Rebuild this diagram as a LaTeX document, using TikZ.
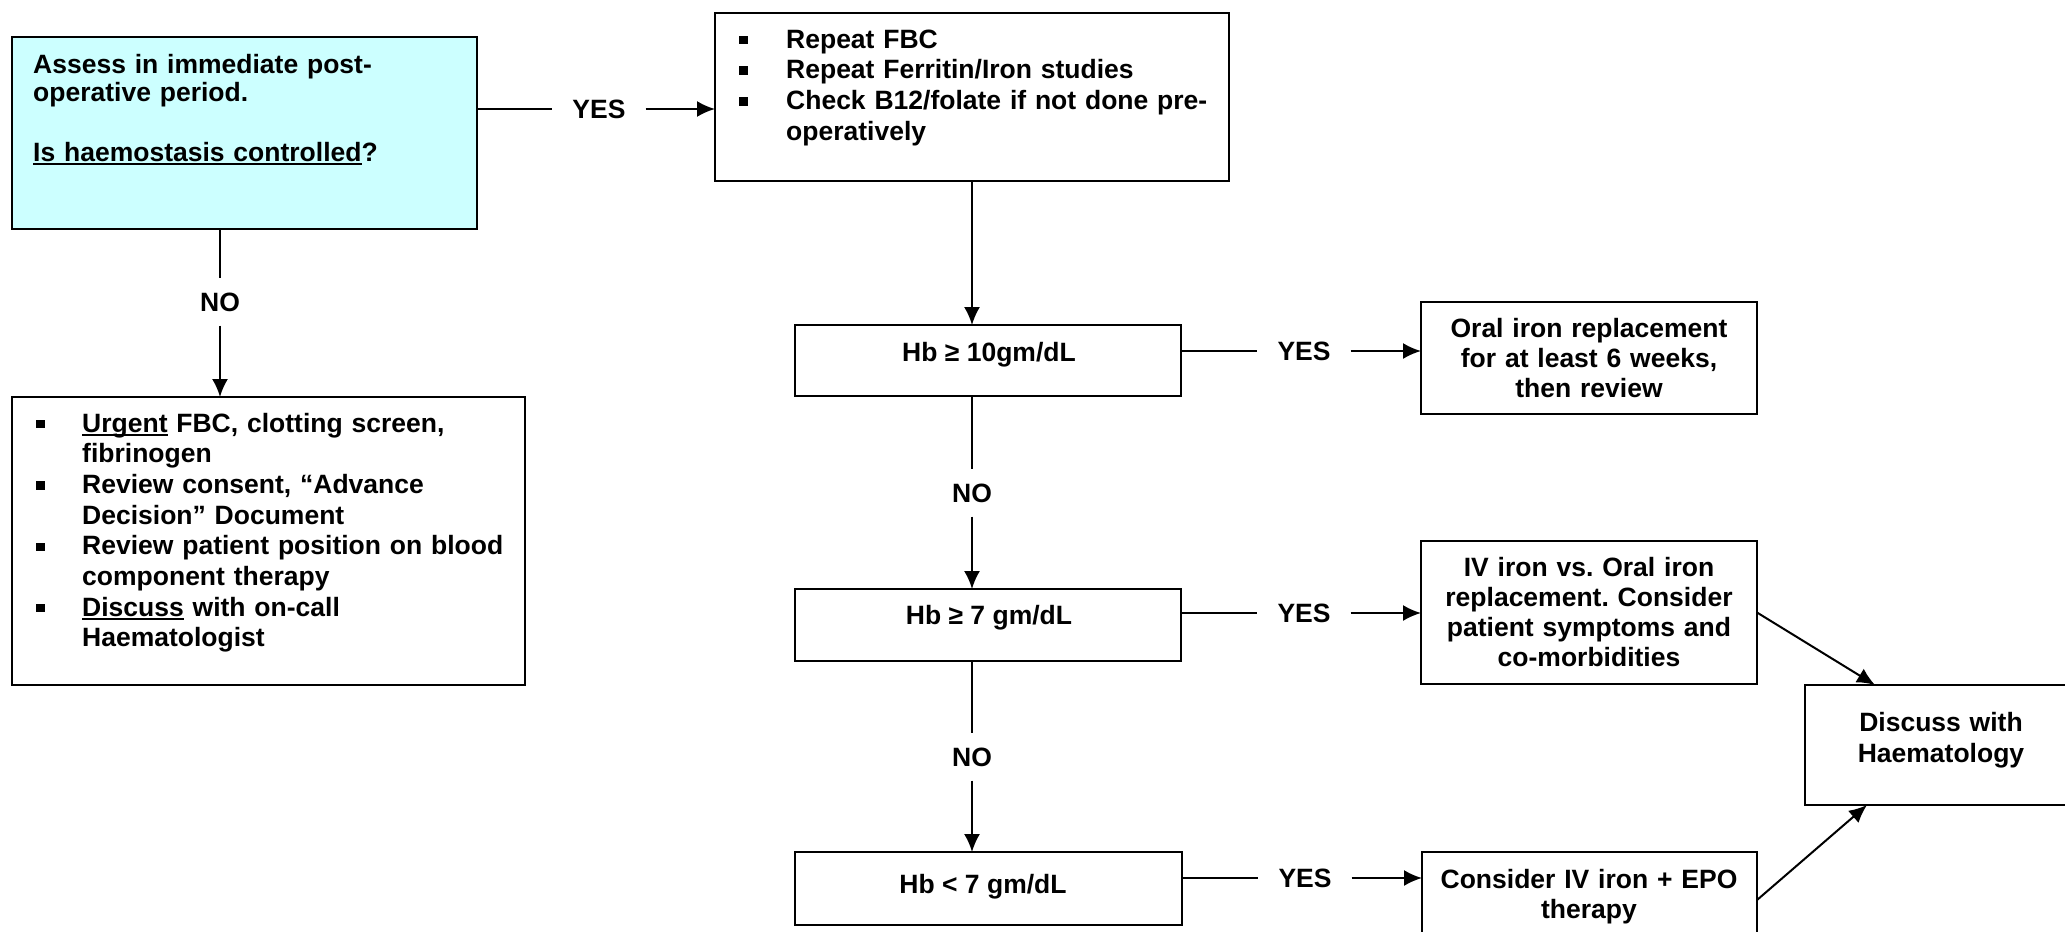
\documentclass[tikz,border=0pt]{standalone}
\usepackage{fontspec}
\setmainfont{Liberation Sans}
\usetikzlibrary{arrows.meta,calc}
\definecolor{cyanbox}{HTML}{CCFFFF}
\newcommand{\bul}[1]{\makebox[#1][l]{\rule[3.75pt]{8.5pt}{8.5pt}}}
\newsavebox{\ulnbox}
\newcommand{\uln}[1]{\leavevmode\sbox{\ulnbox}{#1}\rlap{\rule[-4pt]{\wd\ulnbox}{2.2pt}}\usebox{\ulnbox}}
\frenchspacing
\begin{document}
\begin{tikzpicture}[x=1pt,y=-1pt,
  every node/.style={font=\fontsize{26.5}{30.7}\selectfont\bfseries, inner sep=0pt},
  box/.style={draw, line width=2.5pt, anchor=north west, outer sep=0pt},
  conn/.style={line width=2pt},
  arr/.style={line width=2pt, -{Latex[length=18pt,width=16pt]}},
  lbl/.style={inner xsep=20pt, inner ysep=14pt},
  txt/.style={anchor=base west, text width=600pt, align=left},
  ctxt/.style={anchor=base, text width=500pt, align=center},
]
\useasboundingbox (0,0) rectangle (2065,932);
\fill[white] (0,0) rectangle (2065,932);
\clip (0,0) rectangle (2065,932);

% boxes
\node[box, fill=cyanbox, minimum width=465pt, minimum height=192pt] (A) at (12,37) {};
\node[box, minimum width=514pt, minimum height=168pt] (B) at (715,13) {};
\node[box, minimum width=386pt, minimum height=71pt] (C) at (795,325) {};
\node[box, minimum width=336pt, minimum height=112pt] (D) at (1421,302) {};
\node[box, minimum width=386pt, minimum height=72pt] (E) at (795,589) {};
\node[box, minimum width=336pt, minimum height=143pt] (F) at (1421,541) {};
\node[box, minimum width=387pt, minimum height=73pt] (G) at (795,852) {};
\node[box, minimum width=335pt, minimum height=96pt] (H) at (1422,852) {};
\node[box, minimum width=272pt, minimum height=120pt] (I) at (1805,685) {};
\node[box, minimum width=513pt, minimum height=288pt] (J) at (12,397) {};

% texts
\node[txt, font=\fontsize{26.5}{28}\selectfont\bfseries] (At) at (33,73)
  {Assess in immediate post-\\operative period.\\[32pt]\uln{Is haemostasis controlled}?};
\node[txt] (Bt) at (739,48)
  {\bul{47pt}Repeat FBC\\\bul{47pt}Repeat Ferritin/Iron studies\\\bul{47pt}Check B12/folate if not done pre-\\\hspace*{47pt}operatively};
\node[txt] (Jt) at (36,432)
  {\bul{46pt}\uln{Urgent} FBC, clotting screen,\\\hspace*{46pt}fibrinogen\\\bul{46pt}Review consent, “Advance\\\hspace*{46pt}Decision” Document\\\bul{46pt}Review patient position on blood\\\hspace*{46pt}component therapy\\\bul{46pt}\uln{Discuss} with on-call\\\hspace*{46pt}Haematologist};
\node[anchor=base] (Ct) at (989,361) {Hb ≥ 10gm/dL};
\node[ctxt, font=\fontsize{26.5}{30}\selectfont\bfseries] (Dt) at (1589,337)
  {Oral iron replacement\\for at least 6 weeks,\\then review};
\node[anchor=base] (Et) at (989,624) {Hb ≥ 7 gm/dL};
\node[ctxt, font=\fontsize{26.5}{30.3}\selectfont\bfseries] (Ft) at (1589,576)
  {IV iron vs. Oral iron\\replacement. Consider\\patient symptoms and\\co-morbidities};
\node[anchor=base] (Gt) at (983,893) {Hb < 7 gm/dL};
\node[ctxt, font=\fontsize{26.5}{30}\selectfont\bfseries] (Ht) at (1589,888)
  {Consider IV iron + EPO\\therapy};
\node[ctxt, font=\fontsize{26.5}{31}\selectfont\bfseries] (It) at (1941,731)
  {Discuss with\\Haematology};

% labels
\node[lbl] (yA) at (599,109) {YES};
\node[lbl] (nA) at (220,302) {NO};
\node[lbl] (y1) at (1304,351) {YES};
\node[lbl] (n1) at (972,493) {NO};
\node[lbl] (y2) at (1304,613) {YES};
\node[lbl] (n2) at (972,757) {NO};
\node[lbl] (y3) at (1305,878) {YES};

% connectors
\draw[conn] (A.east |- yA) -- (yA.west);
\draw[arr] (yA.east) -- (B.west |- yA);
\draw[conn] (nA.north |- A.south) -- (nA.north);
\draw[arr] (nA.south) -- (nA.south |- J.north);
\draw[arr] (B.south) -- (B.south |- C.north);
\draw[conn] (B.south |- C.south) -- (n1.north);
\draw[arr] (n1.south) -- (n1.south |- E.north);
\draw[conn] (B.south |- E.south) -- (n2.north);
\draw[arr] (n2.south) -- (n2.south |- G.north);
\draw[conn] (C.east |- y1) -- (y1.west);
\draw[arr] (y1.east) -- (D.west |- y1);
\draw[conn] (E.east |- y2) -- (y2.west);
\draw[arr] (y2.east) -- (F.west |- y2);
\draw[conn] (G.east |- y3) -- (y3.west);
\draw[arr] (y3.east) -- (H.west |- y3);
\draw[arr] (F.east) -- ($(I.north west)+(70,0)$);
\draw[arr] (H.east) -- ($(I.south west)+(62,0)$);
\end{tikzpicture}
\end{document}
